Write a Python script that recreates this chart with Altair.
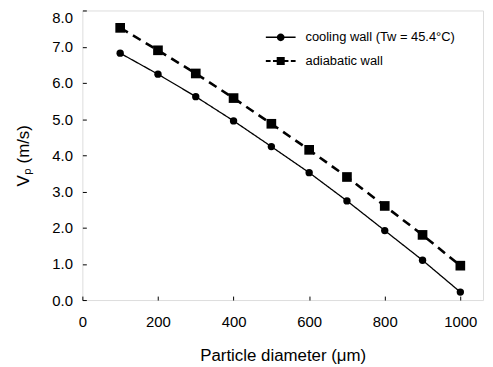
import altair as alt
import pandas as pd

diameters = [100, 200, 300, 400, 500, 600, 700, 800, 900, 1000]
cooling = [6.82, 6.24, 5.62, 4.95, 4.24, 3.52, 2.74, 1.92, 1.10, 0.22]
adiabatic = [7.52, 6.90, 6.26, 5.58, 4.87, 4.15, 3.40, 2.60, 1.80, 0.95]
series_names = ["cooling wall (Tw = 45.4°C)", "adiabatic wall"]
x_ticks = [0, 200, 400, 600, 800, 1000]
y_ticks = [0, 1, 2, 3, 4, 5, 6, 7, 8]

rows = []
for d, c, a in zip(diameters, cooling, adiabatic):
    rows.append({"d": d, "v": c, "series": series_names[0]})
    rows.append({"d": d, "v": a, "series": series_names[1]})
df = pd.DataFrame(rows)

FONT = "Liberation Sans"

x = alt.X("d:Q", scale=alt.Scale(domain=[0, 1060], nice=False, zero=False),
          axis=alt.Axis(values=x_ticks, format="d", title="Particle diameter (μm)", grid=False,
                        domain=False, offset=-4, tickSize=4, labelPadding=15,
                        titlePadding=18, labelFontSize=15, titleFontSize=17,
                        labelFont=FONT, titleFont=FONT, labelColor="black",
                        titleColor="black", titleFontWeight="normal",
                        tickColor="black", labelFlush=False))
y = alt.Y("v:Q", scale=alt.Scale(domain=[0, 8], nice=False),
          axis=alt.Axis(values=y_ticks, format=".1f", title="Vₚ (m/s)", grid=False,
                        domain=False, offset=-4, tickSize=4, labelPadding=10,
                        titlePadding=19, labelFontSize=15, titleFontSize=17,
                        labelFont=FONT, titleFont=FONT, labelColor="black",
                        titleColor="black", titleFontWeight="normal",
                        tickColor="black", labelFlush=False,
                        labelBaseline={"condition": {"test": "datum.value >= 8", "value": "top"},
                                       "value": "middle"}))

base = alt.Chart(df)

lines = base.mark_line(color="black").encode(
    x=x, y=y,
    detail="series:N",
    strokeDash=alt.StrokeDash("series:N", scale=alt.Scale(domain=series_names, range=[[1, 0], [9, 6]]), legend=None),
    strokeWidth=alt.StrokeWidth("series:N", scale=alt.Scale(domain=series_names, range=[1.3, 2.6]), legend=None),
)

points = base.mark_point(filled=True, color="black", opacity=1).encode(
    x=x, y=y,
    shape=alt.Shape("series:N", scale=alt.Scale(domain=series_names, range=["circle", "square"]), legend=None),
    size=alt.Size("series:N", scale=alt.Scale(domain=series_names, range=[55, 95]), legend=None),
)

# legend glyphs: filled line segment + marker (unit box -1..1)
circle_sym = ("M-1,-0.045H1V0.045H-1Z"
              "M-0.26,0A0.26,0.26,0,1,1,0.26,0A0.26,0.26,0,1,1,-0.26,0Z")
square_sym = ("M-1,-0.07H-0.68V0.07H-1Z"
              "M-0.52,-0.07H-0.2V0.07H-0.52Z"
              "M-0.27,-0.27H0.27V0.27H-0.27Z"
              "M0.2,-0.07H0.52V0.07H0.2Z"
              "M0.68,-0.07H1V0.07H0.68Z")

legend_layer = base.transform_filter("false").mark_point(
    filled=True, color="black", size=900, opacity=1, strokeWidth=0
).encode(
    x=x, y=y,
    shape=alt.Shape("series:N", scale=alt.Scale(domain=series_names, range=[circle_sym, square_sym]),
                    legend=alt.Legend(title=None, orient="none", legendX=185, legendY=12,
                                      labelFont=FONT, labelFontSize=13, labelColor="black",
                                      labelOffset=10, padding=0, rowPadding=2, symbolSize=900,
                                      symbolFillColor="black", symbolStrokeWidth=0)),
)

chart = alt.layer(lines, points, legend_layer).resolve_scale(
    shape="independent", strokeDash="independent", strokeWidth="independent", size="independent"
).properties(
    width=404, height=292,
    autosize=alt.AutoSizeParams(type="none"),
    padding={"left": 75, "top": 1, "right": 2, "bottom": 66},
).configure_view(stroke="black", strokeWidth=1).configure(background="white")

chart.save("out.html", embed_options={"renderer": "svg", "actions": False})
